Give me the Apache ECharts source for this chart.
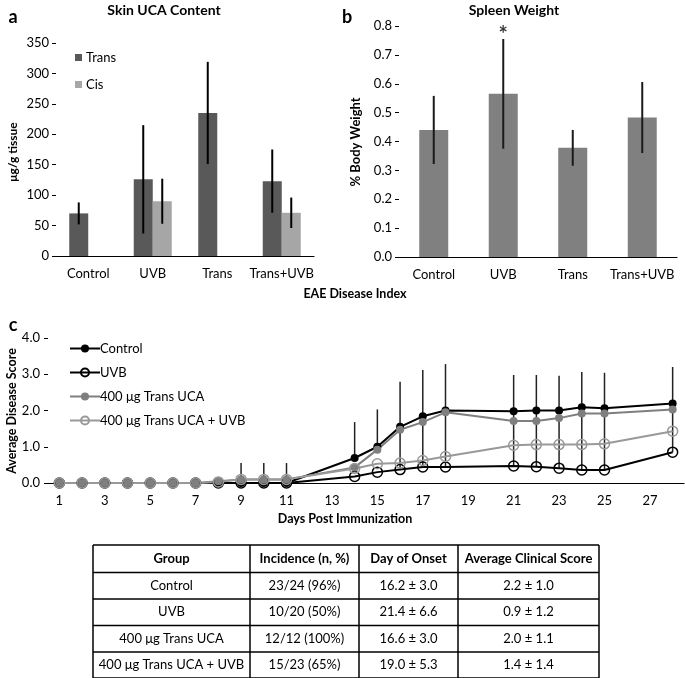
<!DOCTYPE html>
<html>
<head>
<meta charset="UTF-8">
<title>UCA / EAE</title>
<script src="https://cdn.jsdelivr.net/npm/echarts@6/dist/echarts.min.js"></script>
<style>
  * { margin: 0; padding: 0; }
  body { background: #fff; }
  #main { width: 685px; height: 678px; }
</style>
</head>
<body>
<div id="main"></div>
<script>
// ---- panel a: skin UCA content (ug/g tissue)
var skinCats = ['Control', 'UVB', 'Trans', 'Trans+UVB'];
var transVals = [70, 126, 235, 123];
var transErr = [18, 89, 84, 52];
var cisVals = ['-', 90, '-', 71];
var cisErr = [null, 37, null, 25];

// ---- panel b: spleen weight (% body weight)
var spleenVals = [0.44, 0.565, 0.378, 0.483];
var spleenErr = [0.118, 0.19, 0.062, 0.123];
var spleenSig = [null, 0.77, null, null]; // '*' placed at this value

// ---- panel c: average disease score by day
var dayLabels = [];
for (var d = 1; d <= 28; d++) dayLabels.push(String(d));
var controlScore = [0, 0, 0, 0, 0, 0, 0, 0, 0, 0, 0, '-', '-', 0.69, 1.0, 1.55, 1.84, 2.0, '-', '-', 1.98, 2.0, 2.0, 2.09, 2.06, '-', '-', 2.19];
var uvbScore = [0, 0, 0, 0, 0, 0, 0, 0, 0, 0, 0, '-', '-', 0.18, 0.3, 0.37, 0.44, 0.44, '-', '-', 0.47, 0.45, 0.41, 0.36, 0.36, '-', '-', 0.85];
var transScore = [0, 0, 0, 0, 0, 0, 0, 0.05, 0.1, 0.1, 0.1, '-', '-', 0.43, 0.92, 1.47, 1.68, 1.95, '-', '-', 1.71, 1.71, 1.79, 1.92, 1.92, '-', '-', 2.03];
var transUvbScore = [0, 0, 0, 0, 0, 0, 0, 0.03, 0.1, 0.1, 0.1, '-', '-', 0.4, 0.53, 0.55, 0.62, 0.73, '-', '-', 1.04, 1.06, 1.06, 1.06, 1.08, '-', '-', 1.43];
var errLow = ['-', '-', '-', '-', '-', '-', '-', 0, 0, 0, 0, '-', '-', 0.69, 1.0, 0.37, 0.44, 0.44, '-', '-', 0.47, 0.45, 0.41, 0.36, 0.36, '-', '-', 0.85];
var errHigh = ['-', '-', '-', '-', '-', '-', '-', 0.14, 0.55, 0.55, 0.55, '-', '-', 1.68, 2.03, 2.79, 3.12, 3.28, '-', '-', 2.98, 2.98, 2.96, 3.06, 3.04, '-', '-', 3.2];

// ---- table
var tableHead = ['Group', 'Incidence (n, %)', 'Day of Onset', 'Average Clinical Score'];
var tableRows = [
  ['Control', '23/24 (96%)', '16.2 ± 3.0', '2.2 ± 1.0'],
  ['UVB', '10/20 (50%)', '21.4 ± 6.6', '0.9 ± 1.2'],
  ['400 μg Trans UCA', '12/12 (100%)', '16.6 ± 3.0', '2.0 ± 1.1'],
  ['400 μg Trans UCA + UVB', '15/23 (65%)', '19.0 ± 5.3', '1.4 ± 1.4']
];

var FONT = 'Lato';
var chart = echarts.init(document.getElementById('main'));

function errItems(vals, errs) {
  var out = [];
  for (var i = 0; i < vals.length; i++) {
    if (vals[i] === '-' || errs[i] == null) continue;
    out.push([i, vals[i] - errs[i], vals[i] + errs[i]]);
  }
  return out;
}
function rangeItems(lo, hi) {
  var out = [];
  for (var i = 0; i < lo.length; i++) {
    if (lo[i] === '-') continue;
    out.push([i, lo[i], hi[i]]);
  }
  return out;
}
function errRender(offset, color, width) {
  return function (params, api) {
    var a = api.coord([api.value(0), api.value(1)]);
    var b = api.coord([api.value(0), api.value(2)]);
    return {
      type: 'line',
      shape: { x1: a[0] + offset, y1: a[1], x2: b[0] + offset, y2: b[1] },
      style: { stroke: color, lineWidth: width }
    };
  };
}

var axisCommon = {
  axisLine: { lineStyle: { color: '#000', width: 1.2 } },
  axisTick: { lineStyle: { color: '#000' }, length: 4 },
  splitLine: { show: false },
  axisLabel: { color: '#000', fontFamily: FONT, fontSize: 13 }
};
function ax(o) { return echarts.util.merge(o, echarts.util.clone(axisCommon)); }

// table graphics
var colX = [93, 250, 359, 458, 599];
var rowY = [545, 572.5, 599, 625.5, 652, 678];
var tableEls = [];
for (var r = 0; r < rowY.length; r++) {
  tableEls.push({ type: 'line', shape: { x1: colX[0], y1: rowY[r], x2: colX[4], y2: rowY[r] }, style: { stroke: '#000', lineWidth: 1.5 } });
}
for (var c = 0; c < colX.length; c++) {
  tableEls.push({ type: 'line', shape: { x1: colX[c], y1: rowY[0], x2: colX[c], y2: rowY[5] }, style: { stroke: '#000', lineWidth: 1.5 } });
}
var allRows = [tableHead].concat(tableRows);
allRows.forEach(function (row, ri) {
  row.forEach(function (txt, ci) {
    tableEls.push({
      type: 'text',
      x: (colX[ci] + colX[ci + 1]) / 2,
      y: (rowY[ri] + rowY[ri + 1]) / 2,
      style: { text: txt, align: 'center', verticalAlign: 'middle', fill: '#000', fontFamily: FONT, fontSize: 13, fontWeight: ri === 0 ? 'bold' : 'normal' }
    });
  });
});

function label(txt, x, y, size, rot) {
  return { type: 'text', x: x, y: y, rotation: rot || 0,
    style: { text: txt, align: 'center', verticalAlign: 'middle', fill: '#000', fontFamily: FONT, fontSize: size, fontWeight: 'bold' } };
}

var option = {
  animation: false,
  backgroundColor: '#fff',
  textStyle: { fontFamily: FONT },
  grid: [
    { left: 56, right: 371, top: 43, bottom: 422, outerBoundsMode: 'none' },
    { left: 399, right: 8, top: 26, bottom: 421, outerBoundsMode: 'none' },
    { left: 48, right: 1, top: 338, bottom: 195, outerBoundsMode: 'none' }
  ],
  legend: [
    {
      data: ['Trans', 'Cis'], orient: 'vertical', left: 70, top: 46,
      itemWidth: 7, itemHeight: 7, itemGap: 14, icon: 'rect',
      textStyle: { fontFamily: FONT, fontSize: 13, color: '#000', padding: [0, 0, 0, -1] }
    },
    {
      data: ['Control', 'UVB', '400 μg Trans UCA', '400 μg Trans UCA + UVB'],
      orient: 'vertical', left: 64, top: 337, itemWidth: 30, itemHeight: 10, itemGap: 11,
      textStyle: { fontFamily: FONT, fontSize: 13, color: '#000', padding: [0, 0, 0, -5] }
    }
  ],
  xAxis: [
    ax({ gridIndex: 0, type: 'category', data: skinCats, axisTick: { length: 6 }, axisLabel: { interval: 0, margin: 11 } }),
    ax({ gridIndex: 1, type: 'category', data: skinCats, axisTick: { length: 6 }, axisLabel: { interval: 0, margin: 11 } }),
    ax({ gridIndex: 2, type: 'category', data: dayLabels, boundaryGap: true,
      axisTick: { interval: 0, length: 4 }, axisLabel: { interval: 1, margin: 11 } })
  ],
  yAxis: [
    ax({ gridIndex: 0, type: 'value', min: 0, max: 350, interval: 50,
      axisTick: { show: true }, axisLabel: { margin: 7 } }),
    ax({ gridIndex: 1, type: 'value', min: 0, max: 0.8, interval: 0.1,
      axisTick: { show: true },
      axisLabel: { margin: 7, formatter: function (v) { return v.toFixed(1); } } }),
    ax({ gridIndex: 2, type: 'value', min: 0, max: 4, interval: 1,
      axisTick: { show: true },
      axisLabel: { margin: 8, formatter: function (v) { return v.toFixed(1); } } })
  ],
  series: [
    { name: 'Trans', type: 'bar', xAxisIndex: 0, yAxisIndex: 0, data: transVals, barWidth: 19, barGap: '0%', itemStyle: { color: '#595959' } },
    { name: 'Cis', type: 'bar', xAxisIndex: 0, yAxisIndex: 0, data: cisVals, barWidth: 19, barGap: '0%', itemStyle: { color: '#a6a6a6' } },
    { type: 'custom', xAxisIndex: 0, yAxisIndex: 0, data: errItems(transVals, transErr), encode: { x: 0, y: [1, 2] }, renderItem: errRender(-9.5, '#000', 2), z: 3 },
    { type: 'custom', xAxisIndex: 0, yAxisIndex: 0, data: errItems(cisVals, cisErr), encode: { x: 0, y: [1, 2] }, renderItem: errRender(9.5, '#000', 2), z: 3 },

    { name: 'Spleen', type: 'bar', xAxisIndex: 1, yAxisIndex: 1, data: spleenVals, barWidth: 29, itemStyle: { color: '#808080' } },
    { type: 'custom', xAxisIndex: 1, yAxisIndex: 1, data: errItems(spleenVals, spleenErr), encode: { x: 0, y: [1, 2] }, renderItem: errRender(0, '#1a1a1a', 2), z: 3 },
    { type: 'scatter', xAxisIndex: 1, yAxisIndex: 1, symbolSize: 0, z: 4, clip: false,
      data: spleenSig.map(function (v, i) { return v == null ? null : [i, v]; }).filter(function (x) { return x; }),
      label: { show: true, position: 'inside', formatter: '*', color: '#000', fontFamily: FONT, fontSize: 22, fontWeight: 'bold' } },

    { type: 'custom', xAxisIndex: 2, yAxisIndex: 2, data: rangeItems(errLow, errHigh), encode: { x: 0, y: [1, 2] }, renderItem: errRender(0, '#222', 1.5), z: 1 },
    { name: 'Control', type: 'line', xAxisIndex: 2, yAxisIndex: 2, data: controlScore, connectNulls: true, showAllSymbol: true,
      symbol: 'circle', symbolSize: 8, lineStyle: { color: '#000', width: 2 }, itemStyle: { color: '#000' } },
    { name: 'UVB', type: 'line', xAxisIndex: 2, yAxisIndex: 2, data: uvbScore, connectNulls: true, showAllSymbol: true,
      symbol: 'circle', symbolSize: 10, lineStyle: { color: '#000', width: 2 }, itemStyle: { color: 'rgba(255,255,255,0)', borderColor: '#000', borderWidth: 1.5 } },
    { name: '400 μg Trans UCA', type: 'line', xAxisIndex: 2, yAxisIndex: 2, data: transScore, connectNulls: true, showAllSymbol: true,
      symbol: 'circle', symbolSize: 8, lineStyle: { color: '#7f7f7f', width: 2 }, itemStyle: { color: '#7f7f7f' } },
    { name: '400 μg Trans UCA + UVB', type: 'line', xAxisIndex: 2, yAxisIndex: 2, data: transUvbScore, connectNulls: true, showAllSymbol: true,
      symbol: 'circle', symbolSize: 10, lineStyle: { color: '#999', width: 2 }, itemStyle: { color: 'rgba(255,255,255,0)', borderColor: '#999', borderWidth: 1.5 } }
  ],
  graphic: [
    label('a', 13, 17, 18),
    label('Skin UCA Content', 164, 10, 14),
    label('μg/g tissue', 13, 152, 12, Math.PI / 2),
    label('b', 347, 17, 18),
    label('Spleen Weight', 514, 10, 14),
    label('% Body Weight', 356, 142, 13, Math.PI / 2),
    label('EAE Disease Index', 355, 294, 12.5),
    label('c', 13, 325, 18),
    label('Average Disease Score', 12, 411, 12.5, Math.PI / 2),
    label('Days Post Immunization', 345, 519, 12.5)
  ].concat(tableEls)
};
chart.setOption(option);
</script>
</body>
</html>
